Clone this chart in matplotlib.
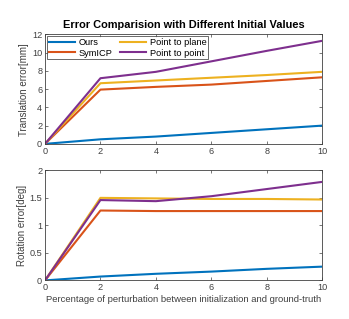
import matplotlib
matplotlib.use("Agg")
import matplotlib.pyplot as plt

x = [0, 2, 4, 6, 8, 10]
labels = ["Ours", "SymICP", "Point to plane", "Point to point"]
colors = ["#0072BD", "#D95319", "#EDB120", "#7E2F8E"]

trans_ours = [0, 0.5, 0.8, 1.2, 1.6, 2.0]
trans_sym = [0, 5.95, 6.25, 6.5, 6.9, 7.3]
trans_plane = [0, 6.65, 6.95, 7.25, 7.55, 7.9]
trans_point = [0, 7.2, 7.9, 9.05, 10.2, 11.3]

rot_ours = [0, 0.07, 0.12, 0.16, 0.21, 0.25]
rot_sym = [0, 1.27, 1.26, 1.26, 1.26, 1.26]
rot_plane = [0, 1.5, 1.49, 1.48, 1.48, 1.47]
rot_point = [0, 1.46, 1.44, 1.53, 1.66, 1.79]

xticks = [0, 2, 4, 6, 8, 10]
trans_yticks = [0, 2, 4, 6, 8, 10, 12]
rot_yticks = [0, 0.5, 1, 1.5, 2]
rot_yticklabels = ["0", "0.5", "1", "1.5", "2"]

plt.rcParams['font.family'] = ['Liberation Sans', 'DejaVu Sans']
gray = "#262626"
tickgray = "#404040"

fig = plt.figure(figsize=(3.49, 3.19), dpi=100)
ax1 = fig.add_axes([0.129, 0.549, 0.794, 0.343])
ax2 = fig.add_axes([0.129, 0.121, 0.794, 0.345])

for ax, series in [(ax1, [trans_ours, trans_sym, trans_plane, trans_point]),
                   (ax2, [rot_ours, rot_sym, rot_plane, rot_point])]:
    for s, c, l in zip(series, colors, labels):
        ax.plot(x, s, color=c, lw=1.5, label=l)
    ax.set_xlim(0, 10)
    ax.set_xticks(xticks)
    ax.tick_params(direction='in', top=True, right=True, labelsize=6.6,
                   colors=tickgray, length=2.5, width=0.5, pad=2)
    for sp in ax.spines.values():
        sp.set_color(tickgray)
        sp.set_linewidth(0.6)

ax1.set_ylim(0, 12)
ax1.set_yticks(trans_yticks)
ax1.set_ylabel("Translation error[mm]", fontsize=7.0, color=tickgray, labelpad=2)
ax1.set_title("Error Comparision with Different Initial Values", fontsize=7.9,
              fontweight='bold', color='black', pad=5)
leg = ax1.legend(loc='upper left', ncol=2, fontsize=6.7, frameon=True, fancybox=False,
                 edgecolor=gray, handlelength=2.8, columnspacing=0.8, handletextpad=0.4,
                 borderpad=0.2, labelspacing=0.15, borderaxespad=0.2)
leg.get_frame().set_linewidth(0.6)

ax2.set_ylim(0, 2)
ax2.set_yticks(rot_yticks)
ax2.set_yticklabels(rot_yticklabels)
ax2.set_ylabel("Rotation error[deg]", fontsize=7.0, color=tickgray, labelpad=2)
ax2.set_xlabel("Percentage of perturbation between initialization and ground-truth",
               fontsize=6.8, color=tickgray, labelpad=2)

fig.savefig("out.png", dpi=100)
